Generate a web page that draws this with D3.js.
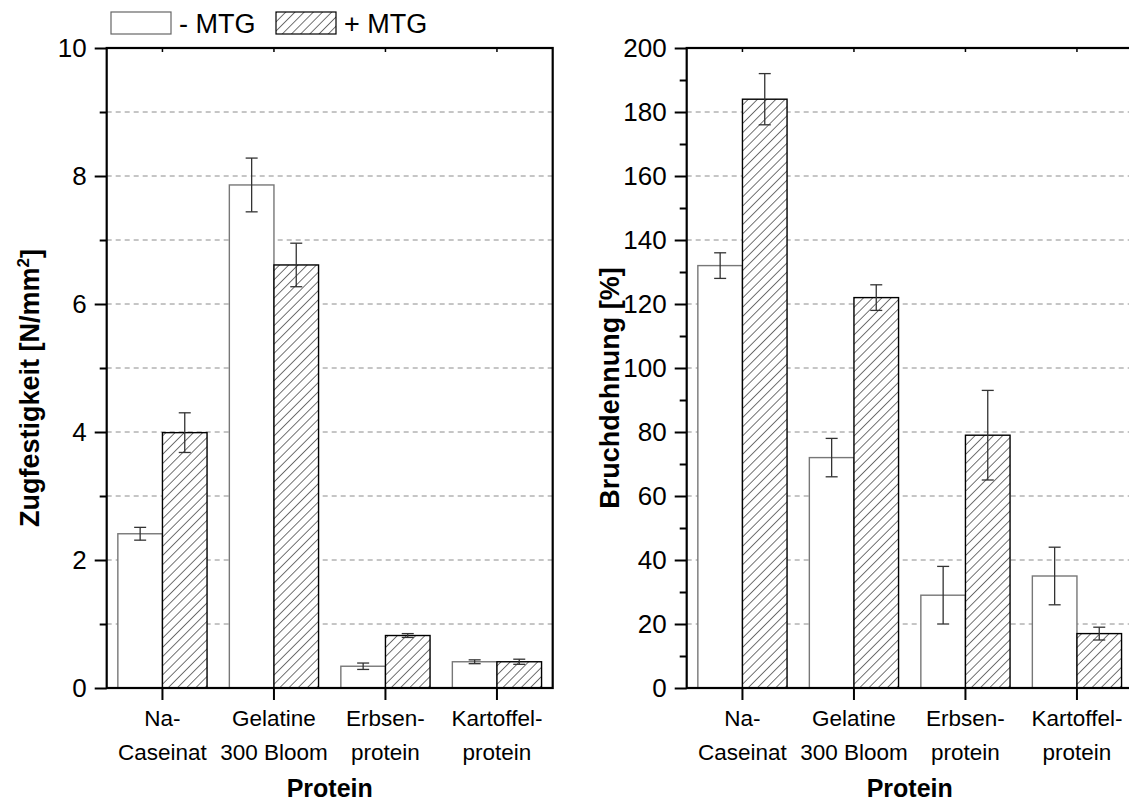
<!DOCTYPE html>
<html>
<head>
<meta charset="utf-8">
<script src="https://cdn.jsdelivr.net/npm/d3@7"></script>
<style>
  body { margin: 0; background: #fff; }
  svg { font-family: "Liberation Sans", Arial, sans-serif; display: block; }
</style>
</head>
<body>
<div id="chart-area"></div>
<script>
// data
const categories = ["Na-Caseinat", "Gelatine 300 Bloom", "Erbsenprotein", "Kartoffelprotein"];
const categoryLines = [["Na-", "Caseinat"], ["Gelatine", "300 Bloom"], ["Erbsen-", "protein"], ["Kartoffel-", "protein"]];
const series = ["- MTG", "+ MTG"];

// Zugfestigkeit [N/mm²]
const zugMinus = [2.41, 7.86, 0.34, 0.41];
const zugMinusErr = [0.10, 0.42, 0.05, 0.03];
const zugPlus = [3.99, 6.61, 0.82, 0.41];
const zugPlusErr = [0.31, 0.34, 0.03, 0.04];

// Bruchdehnung [%]
const bruchMinus = [132, 72, 29, 35];
const bruchMinusErr = [4, 6, 9, 9];
const bruchPlus = [184, 122, 79, 17];
const bruchPlusErr = [8, 4, 14, 2];

const zugMajor = [0, 2, 4, 6, 8, 10];
const zugMinor = [1, 3, 5, 7, 9];
const zugGrid = [1, 2, 3, 4, 5, 6, 7, 8, 9];
const bruchMajor = [0, 20, 40, 60, 80, 100, 120, 140, 160, 180, 200];
const bruchMinor = [10, 30, 50, 70, 90, 110, 130, 150, 170, 190];
const bruchGrid = [20, 40, 60, 80, 100, 120, 140, 160, 180];

const W = 1129, H = 801;
const plotTop = 48, plotH = 640, plotW = 446;

const svg = d3.select("#chart-area")
  .append("svg")
  .attr("width", W)
  .attr("height", H);

// hatch pattern for + MTG
const defs = svg.append("defs");
defs.append("pattern")
  .attr("id", "hatch")
  .attr("patternUnits", "userSpaceOnUse")
  .attr("width", 6.5)
  .attr("height", 6.5)
  .attr("patternTransform", "rotate(45)")
  .call(p => {
    p.append("rect").attr("width", 6.5).attr("height", 6.5).attr("fill", "#fff");
    p.append("line").attr("x1", 0).attr("y1", 0).attr("x2", 0).attr("y2", 6.5)
      .attr("stroke", "#000").attr("stroke-width", 1.1);
  });

const fills = ["#fff", "url(#hatch)"];
const strokes = ["#777", "#000"];

function drawPanel(left, opts) {
  const g = svg.append("g").attr("transform", `translate(${left},${plotTop})`);

  const x = d3.scaleBand().domain(categories).range([0, plotW])
    .paddingInner(0.2).paddingOuter(0.1);
  const xSub = d3.scaleBand().domain(series).range([0, x.bandwidth()]);
  const y = d3.scaleLinear().domain(opts.domain).range([plotH, 0]);

  // grid
  g.selectAll(".grid")
    .data(opts.grid)
    .enter()
    .append("line")
    .attr("class", "grid")
    .attr("x1", 0).attr("x2", plotW)
    .attr("y1", d => y(d)).attr("y2", d => y(d))
    .attr("stroke", "#8c8c8c")
    .attr("stroke-width", 1)
    .attr("stroke-dasharray", "5,4");

  // bars
  const rows = categories.map((c, i) => ({
    cat: c,
    vals: [
      { s: series[0], v: opts.minus[i], e: opts.minusErr[i], k: 0 },
      { s: series[1], v: opts.plus[i], e: opts.plusErr[i], k: 1 }
    ]
  }));

  const groups = g.selectAll(".grp")
    .data(rows)
    .enter()
    .append("g")
    .attr("class", "grp")
    .attr("transform", d => `translate(${x(d.cat)},0)`);

  groups.selectAll("rect")
    .data(d => d.vals)
    .enter()
    .append("rect")
    .attr("x", d => xSub(d.s))
    .attr("y", d => y(d.v))
    .attr("width", xSub.bandwidth())
    .attr("height", d => plotH - y(d.v))
    .attr("fill", d => fills[d.k])
    .attr("stroke", d => strokes[d.k])
    .attr("stroke-width", 1.4);

  // error bars
  const eb = groups.selectAll(".err")
    .data(d => d.vals)
    .enter()
    .append("g")
    .attr("class", "err")
    .attr("stroke", "#333")
    .attr("stroke-width", 1.3);
  eb.append("line")
    .attr("x1", d => xSub(d.s) + xSub.bandwidth() / 2)
    .attr("x2", d => xSub(d.s) + xSub.bandwidth() / 2)
    .attr("y1", d => y(d.v + d.e))
    .attr("y2", d => y(d.v - d.e));
  eb.selectAll(".cap")
    .data(d => [d.v + d.e, d.v - d.e].map(t => ({ t, cx: xSub(d.s) + xSub.bandwidth() / 2 })))
    .enter()
    .append("line")
    .attr("x1", d => d.cx - 6).attr("x2", d => d.cx + 6)
    .attr("y1", d => y(d.t)).attr("y2", d => y(d.t));

  // y axis major + minor
  const yMajor = g.append("g")
    .call(d3.axisLeft(y).tickValues(opts.major).tickSize(12).tickPadding(8).tickSizeOuter(0));
  const yMinor = g.append("g")
    .call(d3.axisLeft(y).tickValues(opts.minor).tickSize(7).tickFormat("").tickSizeOuter(0));
  [yMajor, yMinor].forEach(a => {
    a.select(".domain").remove();
    a.selectAll("line").attr("stroke", "#000").attr("stroke-width", 2);
  });
  yMajor.selectAll("text")
    .attr("font-size", 26)
    .attr("fill", "#000")
    .attr("font-family", "Liberation Sans, Arial, sans-serif");

  // x axis bottom
  const xAxis = g.append("g")
    .attr("transform", `translate(0,${plotH})`)
    .call(d3.axisBottom(x).tickSize(12).tickFormat("").tickSizeOuter(0));
  xAxis.select(".domain").remove();
  xAxis.selectAll("line").attr("stroke", "#000").attr("stroke-width", 2);
  xAxis.selectAll(".tick")
    .append("text")
    .attr("fill", "#000")
    .attr("font-size", 22.5)
    .attr("text-anchor", "middle")
    .each(function(d, i) {
      const t = d3.select(this);
      categoryLines[i].forEach((ln, j) => {
        t.append("tspan").attr("x", 0).attr("y", 38 + j * 34).text(ln);
      });
    });

  // top axis, small inward ticks
  const topAxis = g.append("g")
    .call(d3.axisTop(x).tickSize(-4).tickFormat("").tickSizeOuter(0));
  topAxis.select(".domain").remove();
  topAxis.selectAll("line").attr("stroke", "#000").attr("stroke-width", 1.5);

  // frame
  g.append("rect")
    .attr("x", 0).attr("y", 0)
    .attr("width", plotW).attr("height", plotH)
    .attr("fill", "none")
    .attr("stroke", "#000")
    .attr("stroke-width", 2.2);

  // titles
  g.append("text")
    .attr("transform", `translate(-77,${plotH / 2 + 20}) rotate(-90)`)
    .attr("text-anchor", "middle")
    .attr("dy", "0.35em")
    .attr("font-size", 27)
    .attr("font-weight", "bold")
    .call(opts.yTitle);

  g.append("text")
    .attr("x", plotW / 2)
    .attr("y", plotH + 109)
    .attr("text-anchor", "middle")
    .attr("font-size", 25)
    .attr("font-weight", "bold")
    .text("Protein");
}

drawPanel(106.7, {
  domain: [0, 10], major: zugMajor, minor: zugMinor, grid: zugGrid,
  minus: zugMinus, minusErr: zugMinusErr, plus: zugPlus, plusErr: zugPlusErr,
  yTitle: t => {
    t.append("tspan").text("Zugfestigkeit [N/mm");
    t.append("tspan").attr("font-size", 17).attr("dy", "-0.6em").text("2");
    t.append("tspan").attr("dy", "0.4em").text("]");
  }
});

drawPanel(686.7, {
  domain: [0, 200], major: bruchMajor, minor: bruchMinor, grid: bruchGrid,
  minus: bruchMinus, minusErr: bruchMinusErr, plus: bruchPlus, plusErr: bruchPlusErr,
  yTitle: t => t.text("Bruchdehnung [%]")
});

// legend
const legend = svg.append("g").attr("transform", "translate(111,12)");
const legendX = [0, 165];
series.forEach((s, i) => {
  const lg = legend.append("g").attr("transform", `translate(${legendX[i]},0)`);
  lg.append("rect")
    .attr("width", 60).attr("height", 22)
    .attr("fill", fills[i])
    .attr("stroke", i === 0 ? "#666" : "#000")
    .attr("stroke-width", 1.2);
  lg.append("text")
    .attr("x", 68)
    .attr("y", 21)
    .attr("font-size", 27)
    .text(s);
});
</script>
</body>
</html>
